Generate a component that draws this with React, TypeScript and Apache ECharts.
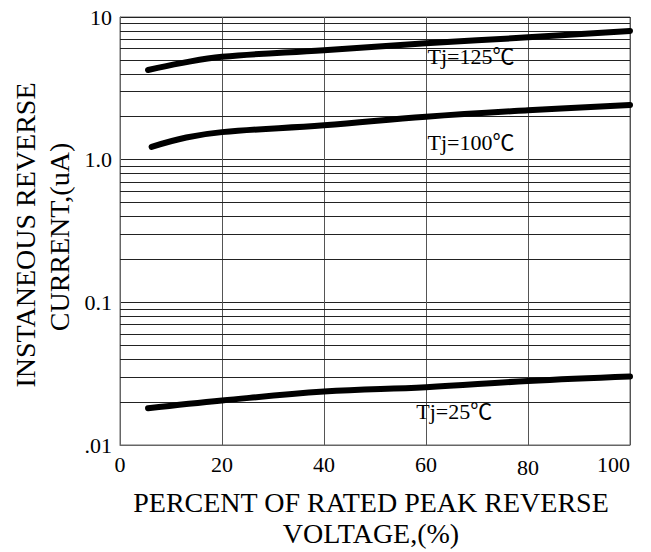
import React, { useEffect, useRef } from "react";
import * as echarts from "echarts";

// ---- data ----
const xTickValues = [0, 20, 40, 60, 80, 100];
const yTickValues = [0.01, 0.1, 1, 10];
const yTickLabels = [".01", "0.1", "1.0", "10"];
const minorDecades = [0.01, 0.1, 1];
const minorMultipliers = [2, 3, 4, 5, 6, 7, 8, 9];

const seriesNames = ["Tj=125℃", "Tj=100℃", "Tj=25℃"];

const voltage125 = [5.5, 12, 20, 40, 60, 80, 100];
const current125 = [4.25, 4.75, 5.26, 5.85, 6.54, 7.2, 7.98];

const voltage100 = [6.2, 13, 20, 40, 60, 80, 100];
const current100 = [1.23, 1.43, 1.56, 1.74, 2.0, 2.22, 2.42];

const voltage25 = [5.5, 20, 40, 60, 80, 100];
const current25 = [0.0181, 0.0205, 0.0237, 0.0254, 0.0281, 0.0302];

const labelAnchors: [number, number][] = [
  [60.2, 5.25],
  [60.2, 1.31],
  [58, 0.0171],
];

const xTitleLines = ["PERCENT OF RATED PEAK REVERSE", "VOLTAGE,(%)"];
const yTitleLines = ["INSTANEOUS REVERSE", "CURRENT,(uA)"];

const SERIF = "Liberation Serif";
const SERIF_LABEL = "Liberation Serif, Noto Sans CJK SC";

function pairs(xs: number[], ys: number[]) {
  return xs.map((x, i) => [x, ys[i]]);
}

export default function App() {
  const ref = useRef<HTMLDivElement>(null);

  useEffect(() => {
    if (!ref.current) return;
    const chart = echarts.init(ref.current, null, { renderer: "svg" });

    const minorLines: { yAxis: number }[] = [];
    minorDecades.forEach((d) =>
      minorMultipliers.forEach((m) => minorLines.push({ yAxis: +(d * m).toPrecision(6) }))
    );

    const curveData = [
      pairs(voltage125, current125),
      pairs(voltage100, current100),
      pairs(voltage25, current25),
    ];

    const curveSeries = curveData.map((data, i) => ({
      name: seriesNames[i],
      type: "line",
      data,
      z: 4,
      smooth: 0.4,
      showSymbol: false,
      symbol: "none",
      silent: true,
      lineStyle: { color: "#000", width: 6, cap: "round", join: "round" },
      markPoint: {
        silent: true,
        symbol: "circle",
        symbolSize: 1,
        itemStyle: { color: "rgba(0,0,0,0)" },
        z: 6,
        label: {
          show: true,
          position: "right",
          distance: 0,
          formatter: seriesNames[i],
          color: "#000",
          fontSize: 22,
          fontFamily: SERIF_LABEL,
        },
        data: [{ coord: labelAnchors[i] }],
      },
    }));

    chart.setOption({
      animation: false,
      backgroundColor: "#fff",
      textStyle: { fontFamily: SERIF },
      grid: {
        left: 120,
        top: 17,
        right: 21,
        bottom: 107,
        show: true,
        borderColor: "#666",
        borderWidth: 1,
      },
      xAxis: {
        type: "value",
        min: xTickValues[0],
        max: xTickValues[xTickValues.length - 1],
        interval: 20,
        axisLine: { show: true, lineStyle: { color: "#666", width: 1 } },
        axisTick: { show: false },
        splitLine: { show: true, lineStyle: { color: "#555", width: 1 } },
        axisLabel: {
          margin: 8,
          color: "#000",
          fontSize: 22,
          fontFamily: SERIF,
          alignMaxLabel: "right",
          formatter: (v: number) => (v === 80 ? `{low|${v}}` : `${v}`),
          rich: {
            low: {
              padding: [3, 0, 0, 0],
              color: "#000",
              fontSize: 22,
              fontFamily: SERIF,
            },
          },
        },
      },
      yAxis: {
        type: "log",
        logBase: 10,
        min: yTickValues[0],
        max: yTickValues[yTickValues.length - 1],
        axisLine: { show: true, lineStyle: { color: "#666", width: 1 } },
        axisTick: { show: false },
        splitLine: { show: true, lineStyle: { color: "#222", width: 1 } },
        minorTick: { show: false },
        minorSplitLine: { show: false },
        axisLabel: {
          margin: 8,
          color: "#000",
          fontSize: 22,
          fontFamily: SERIF,
          formatter: (v: number) => {
            const idx = Math.round(Math.log10(v)) + 2;
            return yTickLabels[idx] ?? "";
          },
        },
      },
      series: [
        {
          type: "line",
          name: "grid",
          data: [[0, 1]],
          showSymbol: false,
          symbol: "none",
          silent: true,
          z: 1,
          lineStyle: { opacity: 0 },
          markLine: {
            silent: true,
            z: 1,
            symbol: ["none", "none"],
            label: { show: false },
            lineStyle: { color: "#222", width: 1, type: "solid" },
            emphasis: { disabled: true },
            data: minorLines,
          },
        },
        ...curveSeries,
      ],
      graphic: [
        {
          type: "text",
          x: 371,
          y: 502,
          style: {
            text: xTitleLines[0],
            fontSize: 28,
            fontFamily: SERIF,
            fill: "#000",
            align: "center",
            verticalAlign: "middle",
          },
        },
        {
          type: "text",
          x: 371,
          y: 533.5,
          style: {
            text: xTitleLines[1],
            fontSize: 28,
            fontFamily: SERIF,
            fill: "#000",
            align: "center",
            verticalAlign: "middle",
          },
        },
        {
          type: "text",
          x: 25,
          y: 235,
          rotation: Math.PI / 2,
          style: {
            text: yTitleLines[0],
            fontSize: 28,
            fontFamily: SERIF,
            fill: "#000",
            align: "center",
            verticalAlign: "middle",
          },
        },
        {
          type: "text",
          x: 59,
          y: 237,
          rotation: Math.PI / 2,
          style: {
            text: yTitleLines[1],
            fontSize: 28,
            fontFamily: SERIF,
            fill: "#000",
            align: "center",
            verticalAlign: "middle",
          },
        },
      ],
    });

    return () => chart.dispose();
  }, []);

  return (
    <div
      ref={ref}
      style={{ position: "fixed", left: 0, top: 0, width: 651, height: 552, background: "#fff" }}
    />
  );
}
